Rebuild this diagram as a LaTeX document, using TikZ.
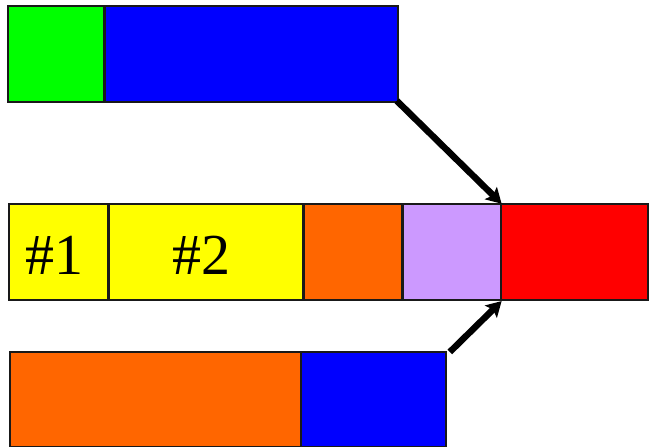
\documentclass[tikz,border=0pt]{standalone}
\usepackage{fontspec}
\setmainfont{Liberation Serif}
\newfontfamily\labelfont{Liberation Serif}
\usetikzlibrary{arrows.meta,calc}
\definecolor{cgreen}{RGB}{0,255,0}
\definecolor{cblue}{RGB}{0,0,255}
\definecolor{cyellow}{RGB}{255,255,0}
\definecolor{corange}{RGB}{255,102,0}
\definecolor{clilac}{RGB}{204,153,255}
\definecolor{cred}{RGB}{255,0,0}
\definecolor{cedge}{RGB}{25,25,25}
\tikzset{
  cell/.style={draw=cedge, line width=1.8pt, rectangle, inner sep=0pt, anchor=north west},
  tag/.style={font=\labelfont\fontsize{58}{62}\selectfont, anchor=base, inner sep=0pt},
  link/.style={line width=6.5pt, -{Stealth[length=15pt,width=17pt,inset=3pt]}, shorten >=-1pt}
}
\newcommand{\cellat}[6]{% name, fill, x0, y0, x1, y1
  \node[cell, fill=#2, minimum width={#5pt-#3pt}, minimum height={#6pt-#4pt}] (#1) at (#3,#4) {};}
\begin{document}
\begin{tikzpicture}[x=1pt,y=-1pt]
\useasboundingbox (0,0) rectangle (649,447);
% top row
\cellat{g}{cgreen}{7}{5}{103}{101}
\cellat{b1}{cblue}{104}{5}{397}{101}
% middle row
\cellat{y1}{cyellow}{8}{203}{107}{299}
\cellat{y2}{cyellow}{108}{203}{302}{299}
\cellat{o1}{corange}{303}{203}{401}{299}
\cellat{l}{clilac}{402}{203}{499.5}{299}
\cellat{r}{cred}{500.5}{203}{647}{299}
\node[tag] (t1) at (54,274) {\#1};
\node[tag] (t2) at (201,274) {\#2};
% bottom row
\cellat{o2}{corange}{9}{351}{300}{446}
\cellat{b2}{cblue}{300}{351}{445}{446}
% connectors
\coordinate (pin) at ($(l.north east)!0.5!(r.north west)$);
\coordinate (pout) at ($(l.south east)!0.5!(r.south west)$);
\draw[link] ([xshift=-2pt,yshift=2pt]b1.south east) -- (pin);
\draw[link] ([xshift=3pt,yshift=-1pt]b2.north east) -- ([yshift=-1pt]pout);
\end{tikzpicture}
\end{document}
